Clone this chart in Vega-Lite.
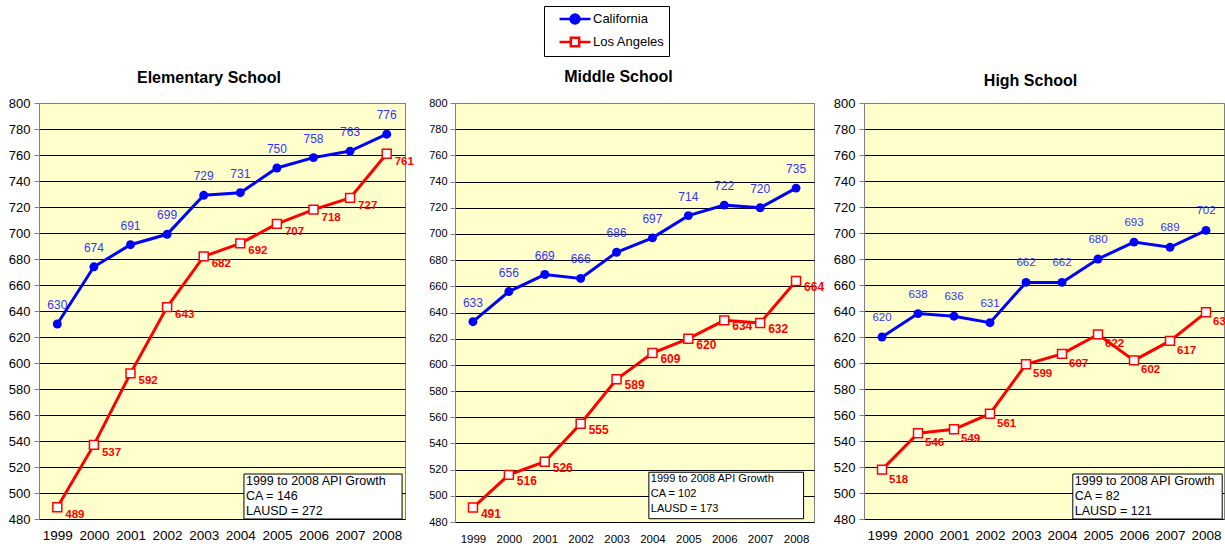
{
  "$schema": "https://vega.github.io/schema/vega-lite/v6.json",
  "padding": {"left": 7, "top": 5, "right": 0, "bottom": 0},
  "bounds": "flush",
  "spacing": 50,
  "datasets": {
    "api": [
      {"level": "Elementary", "year": 1999, "series": "California", "score": 630},
      {"level": "Elementary", "year": 2000, "series": "California", "score": 674},
      {"level": "Elementary", "year": 2001, "series": "California", "score": 691},
      {"level": "Elementary", "year": 2002, "series": "California", "score": 699},
      {"level": "Elementary", "year": 2003, "series": "California", "score": 729},
      {"level": "Elementary", "year": 2004, "series": "California", "score": 731},
      {"level": "Elementary", "year": 2005, "series": "California", "score": 750},
      {"level": "Elementary", "year": 2006, "series": "California", "score": 758},
      {"level": "Elementary", "year": 2007, "series": "California", "score": 763},
      {"level": "Elementary", "year": 2008, "series": "California", "score": 776},
      {"level": "Elementary", "year": 1999, "series": "Los Angeles", "score": 489},
      {"level": "Elementary", "year": 2000, "series": "Los Angeles", "score": 537},
      {"level": "Elementary", "year": 2001, "series": "Los Angeles", "score": 592},
      {"level": "Elementary", "year": 2002, "series": "Los Angeles", "score": 643},
      {"level": "Elementary", "year": 2003, "series": "Los Angeles", "score": 682},
      {"level": "Elementary", "year": 2004, "series": "Los Angeles", "score": 692},
      {"level": "Elementary", "year": 2005, "series": "Los Angeles", "score": 707},
      {"level": "Elementary", "year": 2006, "series": "Los Angeles", "score": 718},
      {"level": "Elementary", "year": 2007, "series": "Los Angeles", "score": 727},
      {"level": "Elementary", "year": 2008, "series": "Los Angeles", "score": 761},
      {"level": "Middle", "year": 1999, "series": "California", "score": 633},
      {"level": "Middle", "year": 2000, "series": "California", "score": 656},
      {"level": "Middle", "year": 2001, "series": "California", "score": 669},
      {"level": "Middle", "year": 2002, "series": "California", "score": 666},
      {"level": "Middle", "year": 2003, "series": "California", "score": 686},
      {"level": "Middle", "year": 2004, "series": "California", "score": 697},
      {"level": "Middle", "year": 2005, "series": "California", "score": 714},
      {"level": "Middle", "year": 2006, "series": "California", "score": 722},
      {"level": "Middle", "year": 2007, "series": "California", "score": 720},
      {"level": "Middle", "year": 2008, "series": "California", "score": 735},
      {"level": "Middle", "year": 1999, "series": "Los Angeles", "score": 491},
      {"level": "Middle", "year": 2000, "series": "Los Angeles", "score": 516},
      {"level": "Middle", "year": 2001, "series": "Los Angeles", "score": 526},
      {"level": "Middle", "year": 2002, "series": "Los Angeles", "score": 555},
      {"level": "Middle", "year": 2003, "series": "Los Angeles", "score": 589},
      {"level": "Middle", "year": 2004, "series": "Los Angeles", "score": 609},
      {"level": "Middle", "year": 2005, "series": "Los Angeles", "score": 620},
      {"level": "Middle", "year": 2006, "series": "Los Angeles", "score": 634},
      {"level": "Middle", "year": 2007, "series": "Los Angeles", "score": 632},
      {"level": "Middle", "year": 2008, "series": "Los Angeles", "score": 664},
      {"level": "High", "year": 1999, "series": "California", "score": 620},
      {"level": "High", "year": 2000, "series": "California", "score": 638},
      {"level": "High", "year": 2001, "series": "California", "score": 636},
      {"level": "High", "year": 2002, "series": "California", "score": 631},
      {"level": "High", "year": 2003, "series": "California", "score": 662},
      {"level": "High", "year": 2004, "series": "California", "score": 662},
      {"level": "High", "year": 2005, "series": "California", "score": 680},
      {"level": "High", "year": 2006, "series": "California", "score": 693},
      {"level": "High", "year": 2007, "series": "California", "score": 689},
      {"level": "High", "year": 2008, "series": "California", "score": 702},
      {"level": "High", "year": 1999, "series": "Los Angeles", "score": 518},
      {"level": "High", "year": 2000, "series": "Los Angeles", "score": 546},
      {"level": "High", "year": 2001, "series": "Los Angeles", "score": 549},
      {"level": "High", "year": 2002, "series": "Los Angeles", "score": 561},
      {"level": "High", "year": 2003, "series": "Los Angeles", "score": 599},
      {"level": "High", "year": 2004, "series": "Los Angeles", "score": 607},
      {"level": "High", "year": 2005, "series": "Los Angeles", "score": 622},
      {"level": "High", "year": 2006, "series": "Los Angeles", "score": 602},
      {"level": "High", "year": 2007, "series": "Los Angeles", "score": 617},
      {"level": "High", "year": 2008, "series": "Los Angeles", "score": 639}
    ],
    "notes": [
      {"level": "Elementary", "note": "1999 to 2008 API Growth\nCA = 146\nLAUSD = 272"},
      {"level": "Middle", "note": "1999 to 2008 API Growth\nCA = 102\nLAUSD = 173"},
      {"level": "High", "note": "1999 to 2008 API Growth\nCA = 82\nLAUSD = 121"}
    ]
  },
  "resolve": {"scale": {"color": "shared", "x": "independent", "y": "independent"}, "legend": {"color": "shared"}},
  "hconcat": [
    {
      "width": 366, "height": 416,
      "title": {"text": "Elementary School", "fontSize": 16, "fontWeight": "bold", "offset": 11, "dx": -13, "frame": "group"},
      "layer": [
        {
          "encoding": {
            "x": {"field": "year", "type": "quantitative", "scale": {"domain": [1998.5, 2008.5], "nice": false, "zero": false},
                  "axis": {"values": [1999, 2000, 2001, 2002, 2003, 2004, 2005, 2006, 2007, 2008], "format": "d", "title": null, "grid": false, "domain": false, "ticks": false, "tickSize": 0, "labelPadding": 9, "labelFontSize": 13.5, "labelFlush": false}},
            "y": {"field": "score", "type": "quantitative", "scale": {"domain": [480, 800], "nice": false, "zero": false},
                  "axis": {"values": [480, 500, 520, 540, 560, 580, 600, 620, 640, 660, 680, 700, 720, 740, 760, 780, 800], "title": null, "labelFontSize": 13, "labelPadding": 4, "tickSize": 5, "labelFlush": false,
                           "gridColor": {"condition": {"test": "datum.value === 800", "value": "#808080"}, "value": "black"}}}
          },
          "layer": [
            {"data": {"name": "api"}, "transform": [{"filter": "datum.level === 'Elementary'"}],
             "mark": {"type": "line", "strokeWidth": 3},
             "encoding": {"color": {"field": "series", "type": "nominal", "scale": {"domain": ["California", "Los Angeles"], "range": ["#0000FF", "#FF0000"]},
               "legend": {"orient": "none", "legendX": 505, "legendY": -97, "title": null, "direction": "vertical", "strokeColor": "black", "fillColor": "white", "padding": 4,
                 "labelFontSize": 13, "labelColor": "black", "symbolSize": 240, "symbolOffset": 18, "labelOffset": 9, "rowPadding": 3,
                 "encode": {"symbols": {"update": {
                   "shape": {"signal": "datum.value === 'California' ? 'M-2,0H2M-0.58,0A0.58,0.58,0,1,0,0.58,0A0.58,0.58,0,1,0,-0.58,0Z' : 'M-2,0H-0.54M0.54,0H2M-0.54,-0.54H0.54V0.54H-0.54Z'"},
                   "fill": {"signal": "datum.value === 'California' ? '#0000FF' : '#FFFFFF'"},
                   "stroke": {"signal": "datum.value === 'California' ? '#0000FF' : '#FF0000'"},
                   "strokeWidth": {"value": 2.5}, "size": {"value": 240}, "opacity": {"value": 1}, "fillOpacity": {"value": 1}}}}}}}},
            {"data": {"name": "api"}, "transform": [{"filter": "datum.level === 'Elementary' && datum.series === 'California'"}],
             "mark": {"type": "circle", "color": "#0000FF", "size": 80, "opacity": 1}},
            {"data": {"name": "api"}, "transform": [{"filter": "datum.level === 'Elementary' && datum.series === 'Los Angeles'"}],
             "mark": {"type": "square", "fill": "#FFFFFF", "stroke": "#FF0000", "strokeWidth": 1.5, "size": 80, "opacity": 1, "fillOpacity": 1}},
            {"data": {"name": "api"}, "transform": [{"filter": "datum.level === 'Elementary' && datum.series === 'California'"}],
             "mark": {"type": "text", "dy": -19, "fontSize": 12, "color": "#3333FF"},
             "encoding": {"text": {"field": "score", "type": "quantitative"}}},
            {"data": {"name": "api"}, "transform": [{"filter": "datum.level === 'Elementary' && datum.series === 'Los Angeles'"}],
             "mark": {"type": "text", "align": "left", "dx": 8, "dy": 8, "fontSize": 11.5, "fontWeight": "bold", "color": "#FF0000"},
             "encoding": {"text": {"field": "score", "type": "quantitative"}}}
          ]
        },
        {
          "data": {"name": "notes"}, "transform": [{"filter": "datum.level === 'Elementary'"}],
          "encoding": {
            "x": {"datum": 2004.1, "type": "quantitative",
                  "axis": {"values": [1999, 2000, 2001, 2002, 2003, 2004, 2005, 2006, 2007, 2008], "format": "d", "title": null, "grid": false, "domain": false, "ticks": false, "tickSize": 0, "labelPadding": 9, "labelFontSize": 13.5, "labelFlush": false}},
            "y": {"datum": 514.6, "type": "quantitative",
                  "axis": {"values": [480, 500, 520, 540, 560, 580, 600, 620, 640, 660, 680, 700, 720, 740, 760, 780, 800], "title": null, "labelFontSize": 13, "labelPadding": 4, "tickSize": 5, "labelFlush": false,
                           "gridColor": {"condition": {"test": "datum.value === 800", "value": "#808080"}, "value": "black"}}}
          },
          "layer": [
            {"mark": {"type": "rect", "fill": "#FFFFFF", "stroke": "black", "strokeWidth": 1},
             "encoding": {"x2": {"datum": 2008.42}, "y2": {"datum": 480}}},
            {"mark": {"type": "text", "align": "left", "baseline": "top", "dx": 2, "dy": 1, "fontSize": 12.5, "lineHeight": 15, "lineBreak": "\n", "color": "black"},
             "encoding": {"text": {"field": "note"}}}
          ]
        }
      ]
    },
    {
      "width": 359, "height": 419,
      "title": {"text": "Middle School", "fontSize": 16, "fontWeight": "bold", "offset": 12, "dx": -16, "frame": "group"},
      "layer": [
        {
          "encoding": {
            "x": {"field": "year", "type": "quantitative", "scale": {"domain": [1998.5, 2008.5], "nice": false, "zero": false},
                  "axis": {"values": [1999, 2000, 2001, 2002, 2003, 2004, 2005, 2006, 2007, 2008], "format": "d", "title": null, "grid": false, "domain": false, "ticks": false, "tickSize": 0, "labelPadding": 11, "labelFontSize": 11.5, "labelFlush": false}},
            "y": {"field": "score", "type": "quantitative", "scale": {"domain": [480, 800], "nice": false, "zero": false},
                  "axis": {"values": [480, 500, 520, 540, 560, 580, 600, 620, 640, 660, 680, 700, 720, 740, 760, 780, 800], "title": null, "labelFontSize": 11, "labelPadding": 3, "tickSize": 5, "labelFlush": false,
                           "gridColor": {"condition": {"test": "datum.value === 800", "value": "#808080"}, "value": "black"}}}
          },
          "layer": [
            {"data": {"name": "api"}, "transform": [{"filter": "datum.level === 'Middle'"}],
             "mark": {"type": "line", "strokeWidth": 3},
             "encoding": {"color": {"field": "series", "type": "nominal"}}},
            {"data": {"name": "api"}, "transform": [{"filter": "datum.level === 'Middle' && datum.series === 'California'"}],
             "mark": {"type": "circle", "color": "#0000FF", "size": 80, "opacity": 1}},
            {"data": {"name": "api"}, "transform": [{"filter": "datum.level === 'Middle' && datum.series === 'Los Angeles'"}],
             "mark": {"type": "square", "fill": "#FFFFFF", "stroke": "#FF0000", "strokeWidth": 1.5, "size": 80, "opacity": 1, "fillOpacity": 1}},
            {"data": {"name": "api"}, "transform": [{"filter": "datum.level === 'Middle' && datum.series === 'California'"}],
             "mark": {"type": "text", "dy": -19, "fontSize": 12, "color": "#3333FF"},
             "encoding": {"text": {"field": "score", "type": "quantitative"}}},
            {"data": {"name": "api"}, "transform": [{"filter": "datum.level === 'Middle' && datum.series === 'Los Angeles'"}],
             "mark": {"type": "text", "align": "left", "dx": 8, "dy": 6, "fontSize": 12, "fontWeight": "bold", "color": "#FF0000"},
             "encoding": {"text": {"field": "score", "type": "quantitative"}}}
          ]
        },
        {
          "data": {"name": "notes"}, "transform": [{"filter": "datum.level === 'Middle'"}],
          "encoding": {
            "x": {"datum": 2003.9, "type": "quantitative",
                  "axis": {"values": [1999, 2000, 2001, 2002, 2003, 2004, 2005, 2006, 2007, 2008], "format": "d", "title": null, "grid": false, "domain": false, "ticks": false, "tickSize": 0, "labelPadding": 11, "labelFontSize": 11.5, "labelFlush": false}},
            "y": {"datum": 518, "type": "quantitative",
                  "axis": {"values": [480, 500, 520, 540, 560, 580, 600, 620, 640, 660, 680, 700, 720, 740, 760, 780, 800], "title": null, "labelFontSize": 11, "labelPadding": 3, "tickSize": 5, "labelFlush": false,
                           "gridColor": {"condition": {"test": "datum.value === 800", "value": "#808080"}, "value": "black"}}}
          },
          "layer": [
            {"mark": {"type": "rect", "fill": "#FFFFFF", "stroke": "black", "strokeWidth": 1},
             "encoding": {"x2": {"datum": 2008.21}, "y2": {"datum": 482.5}}},
            {"mark": {"type": "text", "align": "left", "baseline": "top", "dx": 2, "dy": 1, "fontSize": 11, "lineHeight": 15, "lineBreak": "\n", "color": "black"},
             "encoding": {"text": {"field": "note"}}}
          ]
        }
      ]
    },
    {
      "width": 360, "height": 416,
      "title": {"text": "High School", "fontSize": 16, "fontWeight": "bold", "offset": 8, "dx": -13.5, "frame": "group"},
      "layer": [
        {
          "encoding": {
            "x": {"field": "year", "type": "quantitative", "scale": {"domain": [1998.5, 2008.5], "nice": false, "zero": false},
                  "axis": {"values": [1999, 2000, 2001, 2002, 2003, 2004, 2005, 2006, 2007, 2008], "format": "d", "title": null, "grid": false, "domain": false, "ticks": false, "tickSize": 0, "labelPadding": 9, "labelFontSize": 13.5, "labelFlush": false}},
            "y": {"field": "score", "type": "quantitative", "scale": {"domain": [480, 800], "nice": false, "zero": false},
                  "axis": {"values": [480, 500, 520, 540, 560, 580, 600, 620, 640, 660, 680, 700, 720, 740, 760, 780, 800], "title": null, "labelFontSize": 13, "labelPadding": 4, "tickSize": 5, "labelFlush": false,
                           "gridColor": {"condition": {"test": "datum.value === 800", "value": "#808080"}, "value": "black"}}}
          },
          "layer": [
            {"data": {"name": "api"}, "transform": [{"filter": "datum.level === 'High'"}],
             "mark": {"type": "line", "strokeWidth": 3},
             "encoding": {"color": {"field": "series", "type": "nominal"}}},
            {"data": {"name": "api"}, "transform": [{"filter": "datum.level === 'High' && datum.series === 'California'"}],
             "mark": {"type": "circle", "color": "#0000FF", "size": 80, "opacity": 1}},
            {"data": {"name": "api"}, "transform": [{"filter": "datum.level === 'High' && datum.series === 'Los Angeles'"}],
             "mark": {"type": "square", "fill": "#FFFFFF", "stroke": "#FF0000", "strokeWidth": 1.5, "size": 80, "opacity": 1, "fillOpacity": 1}},
            {"data": {"name": "api"}, "transform": [{"filter": "datum.level === 'High' && datum.series === 'California'"}],
             "mark": {"type": "text", "dy": -19, "fontSize": 11.5, "color": "#3333FF"},
             "encoding": {"text": {"field": "score", "type": "quantitative"}}},
            {"data": {"name": "api"}, "transform": [{"filter": "datum.level === 'High' && datum.series === 'Los Angeles'"}],
             "mark": {"type": "text", "align": "left", "dx": 7, "dy": 10, "fontSize": 11.5, "fontWeight": "bold", "color": "#FF0000"},
             "encoding": {"text": {"field": "score", "type": "quantitative"}}}
          ]
        },
        {
          "data": {"name": "notes"}, "transform": [{"filter": "datum.level === 'High'"}],
          "encoding": {
            "x": {"datum": 2004.3, "type": "quantitative",
                  "axis": {"values": [1999, 2000, 2001, 2002, 2003, 2004, 2005, 2006, 2007, 2008], "format": "d", "title": null, "grid": false, "domain": false, "ticks": false, "tickSize": 0, "labelPadding": 9, "labelFontSize": 13.5, "labelFlush": false}},
            "y": {"datum": 514.6, "type": "quantitative",
                  "axis": {"values": [480, 500, 520, 540, 560, 580, 600, 620, 640, 660, 680, 700, 720, 740, 760, 780, 800], "title": null, "labelFontSize": 13, "labelPadding": 4, "tickSize": 5, "labelFlush": false,
                           "gridColor": {"condition": {"test": "datum.value === 800", "value": "#808080"}, "value": "black"}}}
          },
          "layer": [
            {"mark": {"type": "rect", "fill": "#FFFFFF", "stroke": "black", "strokeWidth": 1},
             "encoding": {"x2": {"datum": 2008.45}, "y2": {"datum": 480}}},
            {"mark": {"type": "text", "align": "left", "baseline": "top", "dx": 2, "dy": 1, "fontSize": 12.5, "lineHeight": 15, "lineBreak": "\n", "color": "black"},
             "encoding": {"text": {"field": "note"}}}
          ]
        }
      ]
    }
  ],
  "config": {
    "font": "Liberation Sans",
    "view": {"stroke": "#808080", "fill": "#FFFFCC", "strokeWidth": 1},
    "axis": {"labelColor": "black", "labelFont": "Liberation Sans", "domainColor": "#808080", "tickColor": "#808080", "gridOpacity": 1, "gridWidth": 1},
    "title": {"font": "Liberation Sans", "color": "black"},
    "legend": {"labelFont": "Liberation Sans"},
    "text": {"font": "Liberation Sans"}
  }
}
